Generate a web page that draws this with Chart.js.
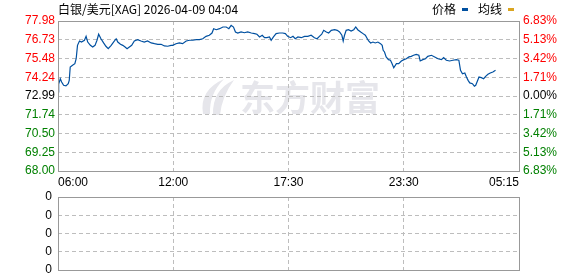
<!DOCTYPE html>
<html>
<head>
<meta charset="utf-8">
<script src="https://cdn.jsdelivr.net/npm/chart.js@4.4.1/dist/chart.umd.min.js"></script>
<style>
  body { margin: 0; background: #fff; }
  #wrap { position: relative; width: 578px; height: 276px; overflow: hidden; }
  #price-box { position: absolute; left: 0; top: 0; width: 578px; height: 190px; }
  #vol-box { position: absolute; left: 0; top: 190px; width: 578px; height: 86px; }
</style>
</head>
<body>
<div id="wrap">
  <div id="price-box"><canvas id="price_chart"></canvas></div>
  <div id="vol-box"><canvas id="vol_chart"></canvas></div>
</div>
<script>
var title_text = '白银/美元[XAG] 2026-04-09 04:04';
var legend_names = ['价格', '均线'];
var base_price = 72.99;
var x_max = 1395;
var x_ticks = [0, 348.75, 697.5, 1046.25, 1395];
var x_labels = ['06:00', '12:00', '17:30', '23:30', '05:15'];
var y_ticks = [68.00, 69.25, 70.50, 71.74, 72.99, 74.24, 75.48, 76.73, 77.98];
var pct_labels = ['6.83%', '5.13%', '3.42%', '1.71%', '0.00%', '1.71%', '3.42%', '5.13%', '6.83%'];
var vol_ticks = [0, 1, 2, 3, 4];
var vol_labels = ['0', '0', '0', '0', '0'];

// minutes after 06:00
var minutes = [0, 2, 7, 11, 17, 24, 31, 34, 37, 44, 51, 55, 59, 65, 71, 80, 85, 90, 98, 105,
  112, 118, 123, 130, 138, 145, 152, 161, 168, 176, 181, 189, 196, 203, 209, 216, 223, 231, 241, 251,
  261, 271, 282, 292, 302, 312, 322, 332, 342, 347, 357, 367, 377, 388, 398, 408, 418, 428, 438, 448,
  458, 466, 471, 479, 489, 499, 509, 517, 524, 531, 537, 544, 554, 564, 574, 585, 595, 602, 610, 618,
  625, 632, 640, 645, 652, 660, 670, 680, 688, 695, 704, 711, 718, 726, 736, 746, 756, 766, 776, 784,
  791, 798, 804, 812, 819, 827, 837, 845, 852, 859, 863, 867, 872, 879, 887, 895, 901, 907, 916, 923,
  930, 936, 940, 946, 953, 960, 968, 976, 981, 984, 988, 993, 1000, 1006, 1010, 1016, 1024, 1031, 1039, 1047,
  1054, 1062, 1069, 1076, 1084, 1092, 1096, 1104, 1112, 1119, 1130, 1140, 1150, 1160, 1167, 1175, 1185, 1195, 1205, 1213,
  1218, 1224, 1231, 1236, 1241, 1246, 1254, 1260, 1264, 1268, 1274, 1281, 1288, 1294, 1301, 1308, 1316, 1324];
var prices = [73.26, 73.79, 74.14, 73.92, 73.70, 73.66, 73.81, 74.03, 74.92, 75.03, 75.14, 75.47, 76.36, 76.65, 76.58, 76.70, 76.96, 76.58, 76.36, 76.25,
  76.36, 76.70, 77.10, 76.80, 76.52, 76.30, 76.14, 76.36, 76.58, 76.80, 76.58, 76.43, 76.36, 76.25, 76.14, 76.25, 76.36, 76.65, 76.74, 76.65,
  76.58, 76.65, 76.52, 76.47, 76.43, 76.43, 76.32, 76.30, 76.36, 76.36, 76.47, 76.52, 76.47, 76.65, 76.70, 76.70, 76.74, 76.74, 76.80, 76.96,
  77.03, 77.18, 77.47, 77.40, 77.47, 77.58, 77.58, 77.47, 77.69, 77.58, 77.25, 77.18, 77.25, 77.20, 77.25, 77.18, 77.14, 77.10, 76.92, 77.03,
  76.87, 76.87, 76.92, 76.70, 76.92, 77.14, 77.18, 77.18, 77.14, 76.96, 76.87, 76.96, 76.80, 76.92, 76.87, 76.96, 76.96, 77.03, 76.87, 76.80,
  76.96, 77.10, 77.36, 77.25, 77.18, 77.36, 77.40, 77.36, 77.25, 77.03, 76.65, 77.03, 77.36, 77.40, 77.31, 77.40, 77.58, 77.40, 77.25, 77.14,
  77.03, 76.80, 76.65, 76.52, 76.58, 76.52, 76.58, 76.47, 76.36, 76.03, 75.92, 75.59, 75.41, 75.37, 75.19, 74.87, 75.14, 75.14, 75.32, 75.41,
  75.47, 75.59, 75.63, 75.70, 75.76, 75.70, 75.32, 75.41, 75.47, 75.63, 75.70, 75.59, 75.47, 75.41, 75.54, 75.37, 75.32, 75.37, 75.41, 75.37,
  74.70, 74.47, 74.52, 74.25, 74.03, 73.86, 73.81, 73.64, 73.70, 73.92, 74.25, 74.21, 74.14, 74.30, 74.43, 74.52, 74.59, 74.70];
var volumes = [];

Chart.defaults.font.family = '"Liberation Sans", Arial, sans-serif';
Chart.defaults.font.size = 12;
Chart.defaults.animation = false;

var grid_color = '#bdbdbd';
var price_points = minutes.map(function(m, i) { return {x: m, y: prices[i]}; });

function $(id) { return document.getElementById(id); }

function tickColor(ctx) {
  var v = ctx.tick.value;
  if (Math.abs(v - base_price) < 0.001) return '#000000';
  return v > base_price ? '#ff0000' : '#008000';
}

function fixedTicks(list) {
  return function(scale) {
    scale.ticks = list.map(function(v) { return {value: v}; });
  };
}

function drawFrame(chart) {
  var a = chart.chartArea;
  var ctx = chart.ctx;
  ctx.save();
  ctx.strokeStyle = '#999999';
  ctx.lineWidth = 1;
  ctx.setLineDash([]);
  ctx.strokeRect(Math.round(a.left) + 0.5, Math.round(a.top) + 0.5,
    Math.round(a.right - a.left), Math.round(a.bottom - a.top));
  ctx.restore();
}

var price_plugin = {
  id: 'price_extras',
  beforeDraw: function(chart) {
    var ctx = chart.ctx;
    ctx.save();
    ctx.fillStyle = '#e6e6eb';
    // watermark logo
    ctx.beginPath();
    ctx.moveTo(203, 114);
    ctx.quadraticCurveTo(199, 90, 224, 79);
    ctx.quadraticCurveTo(209, 94, 210, 114);
    ctx.closePath();
    ctx.fill();
    ctx.beginPath();
    ctx.moveTo(213, 115);
    ctx.quadraticCurveTo(212, 90, 234, 80);
    ctx.quadraticCurveTo(222, 96, 220, 115);
    ctx.closePath();
    ctx.fill();
    ctx.font = 'bold 35px "Noto Sans CJK SC"';
    ctx.textBaseline = 'middle';
    ctx.textAlign = 'left';
    ctx.fillText('东方财富', 240, 98);
    ctx.restore();
  },
  afterDraw: function(chart) {
    drawFrame(chart);
    var ctx = chart.ctx;
    ctx.save();
    ctx.font = '12px "Noto Sans CJK SC"';
    ctx.textBaseline = 'middle';
    ctx.textAlign = 'left';
    ctx.fillStyle = '#000000';
    ctx.fillText(title_text, 58, 9);
    ctx.fillText(legend_names[0], 432, 9);
    ctx.fillText(legend_names[1], 478, 9);
    ctx.fillStyle = '#0050a0';
    ctx.fillRect(462, 8, 6, 3);
    ctx.fillStyle = '#daa520';
    ctx.fillRect(508, 8, 6, 3);
    ctx.restore();
  }
};

var price_chart = new Chart($('price_chart'), {
  type: 'line',
  data: {
    datasets: [{
      label: legend_names[0],
      data: price_points,
      borderColor: '#0050a0',
      borderWidth: 1.2,
      pointRadius: 0,
      tension: 0,
      fill: false
    }]
  },
  options: {
    responsive: true,
    maintainAspectRatio: false,
    layout: { padding: { top: 21, left: 0, right: 0, bottom: 0 } },
    plugins: { legend: { display: false }, tooltip: { enabled: false } },
    scales: {
      x: {
        type: 'linear',
        min: 0,
        max: x_max,
        afterBuildTicks: fixedTicks(x_ticks),
        afterFit: function(scale) { scale.height = 19; },
        grid: { color: grid_color, drawTicks: false },
        border: { display: false, dash: [4, 3] },
        ticks: {
          autoSkip: false,
          maxRotation: 0,
          align: 'inner',
          padding: 4,
          color: '#000000',
          callback: function(v, i) { return x_labels[i]; }
        }
      },
      y: {
        position: 'left',
        min: y_ticks[0],
        max: y_ticks[y_ticks.length - 1],
        afterBuildTicks: fixedTicks(y_ticks),
        afterFit: function(scale) { scale.width = 58; },
        grid: { color: grid_color, drawTicks: false },
        border: { display: false, dash: [4, 3] },
        ticks: {
          autoSkip: false,
          padding: 3,
          color: tickColor,
          callback: function(v) { return v.toFixed(2); }
        }
      },
      y2: {
        position: 'right',
        min: y_ticks[0],
        max: y_ticks[y_ticks.length - 1],
        afterBuildTicks: fixedTicks(y_ticks),
        afterFit: function(scale) { scale.width = 59; },
        grid: { drawOnChartArea: false, drawTicks: false },
        border: { display: false },
        ticks: {
          autoSkip: false,
          padding: 4,
          color: tickColor,
          callback: function(v, i) { return pct_labels[i]; }
        }
      }
    }
  },
  plugins: [price_plugin]
});

var vol_plugin = {
  id: 'vol_extras',
  afterDraw: function(chart) { drawFrame(chart); }
};

var vol_chart = new Chart($('vol_chart'), {
  type: 'line',
  data: {
    datasets: [{ label: 'vol', data: volumes, borderColor: '#0050a0', pointRadius: 0 }]
  },
  options: {
    responsive: true,
    maintainAspectRatio: false,
    layout: { padding: { top: 7, left: 0, right: 59, bottom: 0 } },
    plugins: { legend: { display: false }, tooltip: { enabled: false } },
    scales: {
      x: {
        type: 'linear',
        min: 0,
        max: x_max,
        afterBuildTicks: fixedTicks(x_ticks),
        afterFit: function(scale) { scale.height = 6; },
        grid: { color: grid_color, drawTicks: false },
        border: { display: false, dash: [4, 3] },
        ticks: { display: false }
      },
      y: {
        type: 'linear',
        min: vol_ticks[0],
        max: vol_ticks[vol_ticks.length - 1],
        afterBuildTicks: fixedTicks(vol_ticks),
        afterFit: function(scale) {
          scale.width = 58;
          scale.paddingTop = 0;
          scale.paddingBottom = 0;
        },
        grid: { color: grid_color, drawTicks: false },
        border: { display: false, dash: [4, 3] },
        ticks: {
          autoSkip: false,
          padding: 6,
          color: '#000000',
          callback: function(v, i) { return vol_labels[i]; }
        }
      }
    }
  },
  plugins: [vol_plugin]
});
</script>
</body>
</html>
